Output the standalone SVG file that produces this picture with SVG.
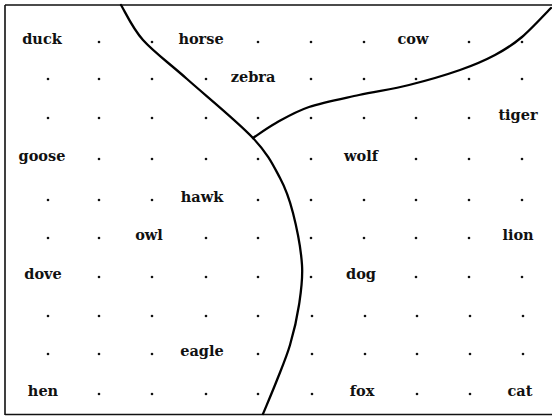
<svg xmlns="http://www.w3.org/2000/svg" width="552" height="416" viewBox="0 0 552 416">
<style>
.lbl{font-family:"DejaVu Serif","Liberation Serif",serif;font-weight:bold;font-size:14.5px;fill:#111;text-anchor:middle}
.dot{fill:#111}
.frame{stroke:#111;stroke-width:1.6;fill:none}
.curve{stroke:#000;stroke-width:2.3;fill:none;stroke-linecap:round}
</style>
<rect width="552" height="416" fill="#fff"/>
<g id="frame" class="frame">
<path d="M5,5 H552 M5,5 V415 M5,414.5 H552"/>
</g>
<g id="connectors">
<path class="curve" d="M121,5 C124.7,10.8 132,27.7 143,40 C154,52.3 168.7,62.7 187,79 C205.3,95.3 237.5,121.5 253,138 C268.5,154.5 273.3,165.5 280,178 C286.7,190.5 289.3,198.5 293,213 C296.7,227.5 301,249.7 302,265 C303,280.3 301,291.7 299,305 C297,318.3 293.7,332.5 290,345 C286.3,357.5 281.5,368.5 277,380 C272.5,391.5 265.3,408.3 263,414"/>
<path class="curve" d="M253,138 C256.8,135.5 266.7,128.2 276,123 C285.3,117.8 295.2,111.7 309,107 C322.8,102.3 342.3,98.7 359,95 C375.7,91.3 392.2,89.2 409,85 C425.8,80.8 445.7,75 460,70 C474.3,65 484.7,60.5 495,55 C505.3,49.5 512.7,44.8 522,37 C531.3,29.2 546.2,12.8 551,8"/>
</g>
<g id="dots" class="dot">
<circle cx="99" cy="42" r="1.3"/><circle cx="152" cy="42" r="1.3"/><circle cx="258" cy="42" r="1.3"/><circle cx="311" cy="42" r="1.3"/><circle cx="364" cy="42" r="1.3"/><circle cx="469" cy="42" r="1.3"/><circle cx="522" cy="42" r="1.3"/>
<circle cx="48" cy="79" r="1.3"/><circle cx="99" cy="79" r="1.3"/><circle cx="152" cy="79" r="1.3"/><circle cx="206" cy="79" r="1.3"/><circle cx="311" cy="79" r="1.3"/><circle cx="364" cy="79" r="1.3"/><circle cx="416" cy="79" r="1.3"/><circle cx="469" cy="79" r="1.3"/><circle cx="522" cy="79" r="1.3"/>
<circle cx="48" cy="118" r="1.3"/><circle cx="99" cy="118" r="1.3"/><circle cx="152" cy="118" r="1.3"/><circle cx="206" cy="118" r="1.3"/><circle cx="258" cy="118" r="1.3"/><circle cx="311" cy="118" r="1.3"/><circle cx="364" cy="118" r="1.3"/><circle cx="416" cy="118" r="1.3"/><circle cx="469" cy="118" r="1.3"/>
<circle cx="99" cy="159" r="1.3"/><circle cx="152" cy="159" r="1.3"/><circle cx="206" cy="159" r="1.3"/><circle cx="258" cy="159" r="1.3"/><circle cx="311" cy="159" r="1.3"/><circle cx="416" cy="159" r="1.3"/><circle cx="469" cy="159" r="1.3"/><circle cx="522" cy="159" r="1.3"/>
<circle cx="48" cy="200" r="1.3"/><circle cx="99" cy="200" r="1.3"/><circle cx="152" cy="200" r="1.3"/><circle cx="258" cy="200" r="1.3"/><circle cx="311" cy="200" r="1.3"/><circle cx="364" cy="200" r="1.3"/><circle cx="416" cy="200" r="1.3"/><circle cx="469" cy="200" r="1.3"/><circle cx="522" cy="200" r="1.3"/>
<circle cx="48" cy="238" r="1.3"/><circle cx="99" cy="238" r="1.3"/><circle cx="206" cy="238" r="1.3"/><circle cx="258" cy="238" r="1.3"/><circle cx="311" cy="238" r="1.3"/><circle cx="364" cy="238" r="1.3"/><circle cx="416" cy="238" r="1.3"/><circle cx="469" cy="238" r="1.3"/>
<circle cx="99" cy="277" r="1.3"/><circle cx="152" cy="277" r="1.3"/><circle cx="206" cy="277" r="1.3"/><circle cx="258" cy="277" r="1.3"/><circle cx="311" cy="277" r="1.3"/><circle cx="416" cy="277" r="1.3"/><circle cx="469" cy="277" r="1.3"/><circle cx="522" cy="277" r="1.3"/>
<circle cx="48" cy="316" r="1.3"/><circle cx="99" cy="316" r="1.3"/><circle cx="152" cy="316" r="1.3"/><circle cx="206" cy="316" r="1.3"/><circle cx="258" cy="316" r="1.3"/><circle cx="312" cy="316" r="1.3"/><circle cx="365" cy="316" r="1.3"/><circle cx="417" cy="316" r="1.3"/><circle cx="470" cy="316" r="1.3"/><circle cx="523" cy="316" r="1.3"/>
<circle cx="48" cy="354" r="1.3"/><circle cx="99" cy="354" r="1.3"/><circle cx="152" cy="354" r="1.3"/><circle cx="258" cy="354" r="1.3"/><circle cx="312" cy="354" r="1.3"/><circle cx="365" cy="354" r="1.3"/><circle cx="417" cy="354" r="1.3"/><circle cx="470" cy="354" r="1.3"/><circle cx="523" cy="354" r="1.3"/>
<circle cx="99" cy="394" r="1.3"/><circle cx="152" cy="394" r="1.3"/><circle cx="206" cy="394" r="1.3"/><circle cx="258" cy="394" r="1.3"/><circle cx="312" cy="394" r="1.3"/><circle cx="417" cy="394" r="1.3"/><circle cx="470" cy="394" r="1.3"/>
</g>
<g id="duck"><text class="lbl" x="42" y="44">duck</text></g>
<g id="horse"><text class="lbl" x="201" y="44">horse</text></g>
<g id="cow"><text class="lbl" x="413" y="44">cow</text></g>
<g id="zebra"><text class="lbl" x="253" y="82">zebra</text></g>
<g id="tiger"><text class="lbl" x="518" y="120">tiger</text></g>
<g id="goose"><text class="lbl" x="42" y="161">goose</text></g>
<g id="wolf"><text class="lbl" x="361" y="161">wolf</text></g>
<g id="hawk"><text class="lbl" x="202" y="202">hawk</text></g>
<g id="owl"><text class="lbl" x="149" y="240">owl</text></g>
<g id="lion"><text class="lbl" x="518" y="240">lion</text></g>
<g id="dove"><text class="lbl" x="43" y="279">dove</text></g>
<g id="dog"><text class="lbl" x="361" y="279">dog</text></g>
<g id="eagle"><text class="lbl" x="202" y="356">eagle</text></g>
<g id="hen"><text class="lbl" x="43" y="396">hen</text></g>
<g id="fox"><text class="lbl" x="362" y="396">fox</text></g>
<g id="cat"><text class="lbl" x="520" y="396">cat</text></g>
</svg>
